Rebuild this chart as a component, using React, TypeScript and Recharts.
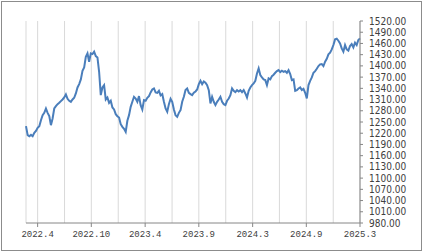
import React from 'react';
import { LineChart, Line, XAxis, YAxis, CartesianGrid } from 'recharts';

const values = [
  1238.8, 1214.7, 1212.1, 1215.6, 1212.1, 1221.0, 1226.3, 1234.4, 1238.8, 1254.9,
  1268.3, 1274.5, 1286.1, 1274.5, 1265.6, 1241.5, 1259.4, 1286.1, 1292.4, 1297.7,
  1301.3, 1305.8, 1310.2, 1315.6, 1323.6, 1312.0, 1306.7, 1304.0, 1310.2, 1314.7,
  1326.3, 1342.4, 1351.3, 1363.8, 1387.0, 1395.9, 1424.5, 1433.4, 1411.1, 1433.4,
  1431.6, 1437.9, 1426.3, 1422.7, 1384.3, 1321.8, 1342.4, 1348.6, 1310.2, 1315.6,
  1301.3, 1306.7, 1288.8, 1283.5, 1271.0, 1265.6, 1262.0, 1244.2, 1237.0, 1231.7,
  1223.7, 1253.1, 1268.3, 1290.6, 1304.0, 1317.4, 1312.9, 1304.0, 1319.2, 1295.1,
  1283.5, 1308.5, 1306.7, 1314.7, 1319.2, 1329.0, 1337.0, 1339.7, 1329.0, 1328.1,
  1333.4, 1321.0, 1324.5, 1304.0, 1286.1, 1277.2, 1297.7, 1312.0, 1304.0, 1283.5,
  1268.3, 1263.8, 1274.5, 1281.7, 1304.0, 1317.4, 1335.2, 1339.7, 1328.1, 1324.5,
  1321.8, 1328.1, 1331.7, 1337.0, 1351.3, 1360.2, 1351.3, 1358.4, 1354.9, 1348.6,
  1335.2, 1299.5, 1317.4, 1304.0, 1295.1, 1304.0, 1310.2, 1317.4, 1304.0, 1297.7,
  1295.1, 1306.7, 1312.9, 1321.8, 1339.7, 1333.4, 1329.9, 1335.2, 1331.7, 1335.2,
  1329.9, 1335.2, 1326.3, 1315.6, 1333.4, 1342.4, 1348.6, 1353.1, 1360.2, 1379.9,
  1393.3, 1375.4, 1369.2, 1363.8, 1362.0, 1348.6, 1366.5, 1363.8, 1372.7, 1376.3,
  1381.6, 1386.1, 1388.8, 1383.4, 1387.0, 1384.3, 1386.1, 1381.6, 1388.8, 1378.1,
  1362.0, 1363.8, 1333.4, 1335.2, 1339.7, 1342.4, 1335.2, 1338.8, 1328.1, 1312.9,
  1348.6, 1360.2, 1369.2, 1381.6, 1386.1, 1392.4, 1399.5, 1404.0, 1404.9, 1399.5,
  1411.1, 1419.1, 1430.7, 1435.2, 1444.1, 1455.7, 1470.9, 1472.7, 1467.3, 1460.2,
  1446.8, 1437.9, 1455.7, 1444.1, 1440.6, 1453.1, 1458.4, 1449.5, 1462.0, 1455.7,
  1469.1, 1473.6,
];

const gridTicks = [7.0, 23.2, 39.3, 55.5, 71.7, 87.9, 104.0, 120.2, 136.4, 152.5, 168.7, 184.9, 201.0];
const tickLabels = ['2022.4', '', '2022.10', '', '2023.4', '', '2023.9', '', '2024.3', '', '2024.9', '', '2025.3'];
const yTicks = [980, 1010, 1040, 1070, 1100, 1130, 1160, 1190, 1220, 1250, 1280, 1310, 1340, 1370, 1400, 1430, 1460, 1490, 1520];

const data = values.map((v, i) => ({ i, v }));

const XTick = (props: any) => {
  const { x, y, payload } = props;
  const idx = gridTicks.indexOf(payload.value);
  const label = tickLabels[idx];
  if (!label) return null;
  return (
    <g>
      <line x1={x} x2={x} y1={y - 6} y2={y - 2} stroke="#868686" strokeWidth={1} />
      <text
        x={x}
        y={y + 8}
        textAnchor="middle"
        fontFamily="'Liberation Mono', 'DejaVu Sans Mono', monospace"
        fontSize={9}
        fill="#404040"
      >
        {label}
      </text>
    </g>
  );
};

export default function App() {
  return (
    <div style={{ position: 'absolute', left: 0, top: 0, width: 423, height: 252, background: '#fff' }}>
      <div
        style={{
          position: 'absolute',
          left: 1,
          top: 1,
          width: 419,
          height: 248,
          border: '1px solid #8c8c8c',
        }}
      />
      <div style={{ position: 'absolute', left: 0, top: 0 }}>
        <LineChart width={423} height={252} data={data} margin={{ top: 21, right: 0, bottom: 0, left: 26 }}>
          <CartesianGrid horizontal={false} vertical={true} stroke="#d9d9d9" strokeWidth={1} />
          <XAxis
            dataKey="i"
            type="number"
            domain={[0, 201]}
            ticks={gridTicks}
            interval={0}
            height={29}
            tickLine={false}
            tickSize={4}
            tickMargin={2}
            axisLine={{ stroke: '#868686' }}
            tick={<XTick />}
          />
          <YAxis
            orientation="right"
            type="number"
            domain={[980, 1520]}
            ticks={yTicks}
            interval={0}
            width={63}
            tickSize={3}
            tickMargin={6}
            axisLine={{ stroke: '#868686' }}
            tickLine={{ stroke: '#868686' }}
            tickFormatter={(v: number) => v.toFixed(2)}
            tick={{
              fontSize: 10,
              fontFamily: "'Liberation Sans Narrow', 'Arial Narrow', 'DejaVu Sans Condensed', sans-serif",
              fill: '#404040',
              textAnchor: 'start',
            }}
          />
          <Line
            type="linear"
            dataKey="v"
            stroke="#4A7EBB"
            strokeWidth={2}
            dot={false}
            isAnimationActive={false}
          />
        </LineChart>
      </div>
    </div>
  );
}
